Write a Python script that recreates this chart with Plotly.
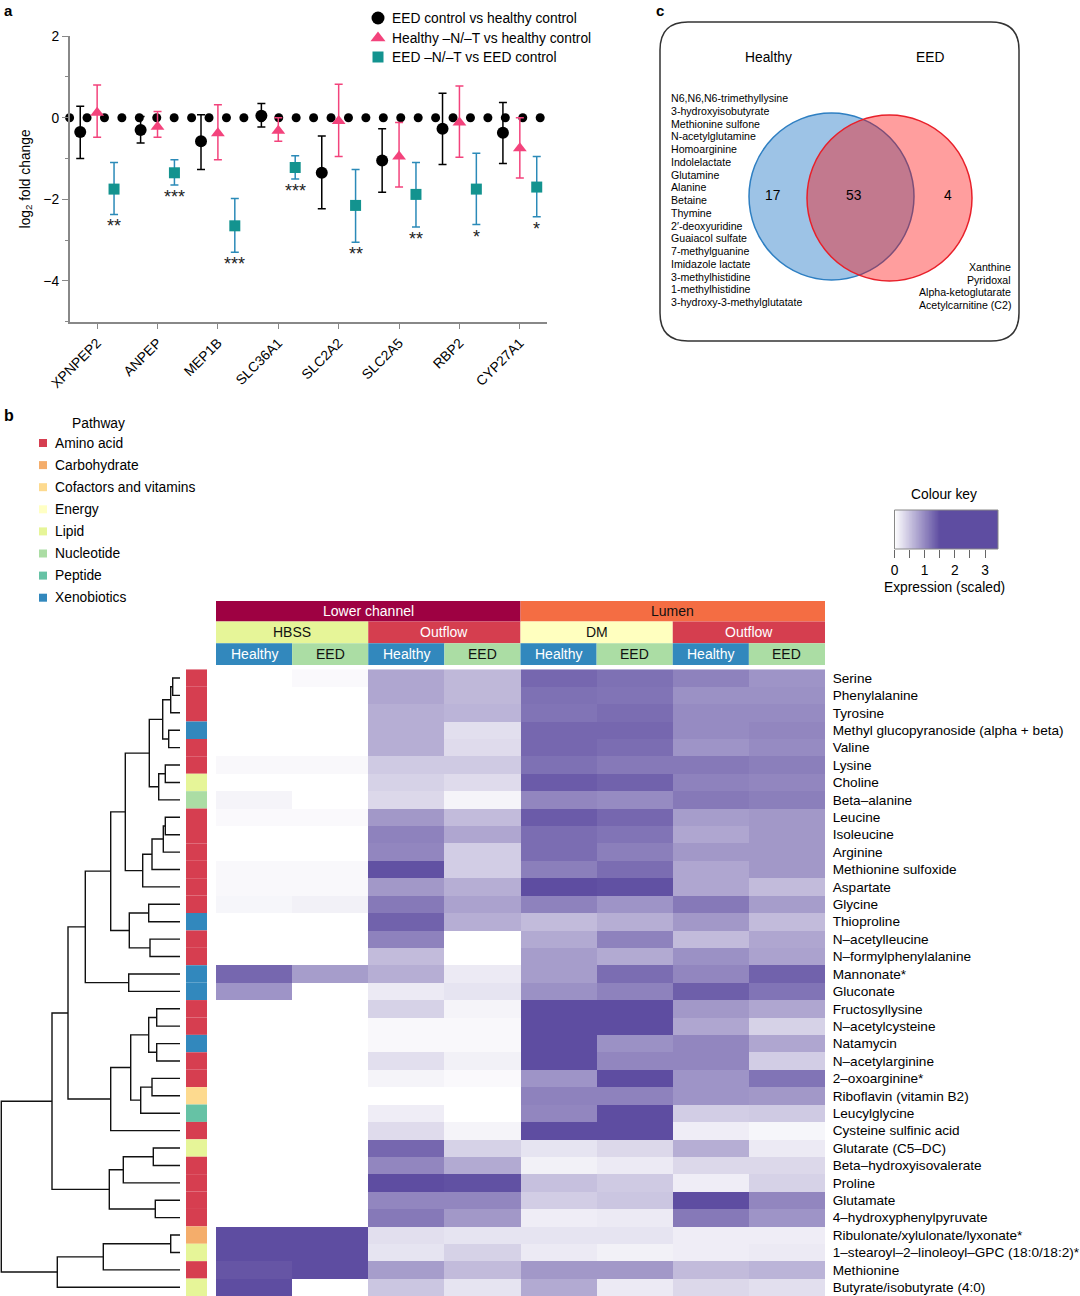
import numpy as np
import plotly.graph_objects as go

W, H = 1080, 1296
FONT = "Liberation Sans, Arial, sans-serif"

def px(x):
    return x / W

def py(y):
    return 1 - y / H

# ---------------- Panel a data ----------------
genes = ["XPNPEP2", "ANPEP", "MEP1B", "SLC36A1", "SLC2A2", "SLC2A5", "RBP2", "CYP27A1"]
series_names = ["EED control vs healthy control",
                "Healthy \u2013N/\u2013T vs healthy control",
                "EED \u2013N/\u2013T vs EED control"]
eed_vs_healthy = [-0.35, -0.30, -0.58, 0.05, -1.35, -1.05, -0.27, -0.37]
eed_vs_healthy_hi = [0.28, 0.03, 0.07, 0.35, -0.45, -0.27, 0.60, 0.37]
eed_vs_healthy_lo = [-1.00, -0.62, -1.27, -0.23, -2.23, -1.83, -1.15, -1.12]
healthy_nt = [0.12, -0.22, -0.38, -0.32, -0.08, -0.95, -0.12, -0.75]
healthy_nt_hi = [0.80, 0.15, 0.32, 0.00, 0.82, -0.12, 0.78, 0.00]
healthy_nt_lo = [-0.48, -0.48, -1.03, -0.58, -0.95, -1.70, -0.97, -1.48]
eed_nt = [-1.75, -1.35, -2.65, -1.22, -2.15, -1.88, -1.75, -1.70]
eed_nt_hi = [-1.10, -1.03, -1.98, -0.93, -1.27, -1.10, -0.87, -0.95]
eed_nt_lo = [-2.37, -1.65, -3.30, -1.50, -3.05, -2.68, -2.62, -2.43]
eed_nt_sig = ["**", "***", "***", "***", "**", "**", "*", "*"]

# ---------------- Panel c data ----------------
venn_sets = ["Healthy", "EED"]
venn_counts = [17, 53, 4]  # healthy only, shared, EED only
healthy_only = ["N6,N6,N6-trimethyllysine", "3-hydroxyisobutyrate", "Methionine sulfone",
                "N-acetylglutamine", "Homoarginine", "Indolelactate", "Glutamine", "Alanine",
                "Betaine", "Thymine", "2\u2032-deoxyuridine", "Guaiacol sulfate", "7-methylguanine",
                "Imidazole lactate", "3-methylhistidine", "1-methylhistidine",
                "3-hydroxy-3-methylglutatate"]
eed_only = ["Xanthine", "Pyridoxal", "Alpha-ketoglutarate", "Acetylcarnitine (C2)"]

# ---------------- Panel b data ----------------
site = ["Lower channel"] * 4 + ["Lumen"] * 4
medium = ["HBSS", "HBSS", "Outflow", "Outflow", "DM", "DM", "Outflow", "Outflow"]
group = ["Healthy", "EED"] * 4

metabolites = ["Serine", "Phenylalanine", "Tyrosine", "Methyl glucopyranoside (alpha + beta)",
               "Valine", "Lysine", "Choline", "Beta\u2013alanine", "Leucine", "Isoleucine",
               "Arginine", "Methionine sulfoxide", "Aspartate", "Glycine", "Thioproline",
               "N\u2013acetylleucine", "N\u2013formylphenylalanine", "Mannonate*", "Gluconate",
               "Fructosyllysine", "N\u2013acetylcysteine", "Natamycin", "N\u2013acetylarginine",
               "2\u2013oxoarginine*", "Riboflavin (vitamin B2)", "Leucylglycine",
               "Cysteine sulfinic acid", "Glutarate (C5\u2013DC)", "Beta\u2013hydroxyisovalerate",
               "Proline", "Glutamate", "4\u2013hydroxyphenylpyruvate",
               "Ribulonate/xylulonate/lyxonate*",
               "1\u2013stearoyl\u20132\u2013linoleoyl\u2013GPC (18:0/18:2)*", "Methionine",
               "Butyrate/isobutyrate (4:0)"]

pathway = ["Amino acid", "Amino acid", "Amino acid", "Xenobiotics", "Amino acid", "Amino acid",
           "Lipid", "Nucleotide", "Amino acid", "Amino acid", "Amino acid", "Amino acid",
           "Amino acid", "Amino acid", "Xenobiotics", "Amino acid", "Amino acid", "Xenobiotics",
           "Xenobiotics", "Amino acid", "Amino acid", "Xenobiotics", "Amino acid", "Amino acid",
           "Cofactors and vitamins", "Peptide", "Amino acid", "Lipid", "Amino acid", "Amino acid",
           "Amino acid", "Amino acid", "Carbohydrate", "Lipid", "Amino acid", "Lipid"]

pathway_names = ["Amino acid", "Carbohydrate", "Cofactors and vitamins", "Energy", "Lipid",
                 "Nucleotide", "Peptide", "Xenobiotics"]
pathway_colors = ["#D63E50", "#F4AD6B", "#FDDA8F", "#FFFFC4", "#E6F598", "#ABDDA4", "#66C2A5",
                  "#3288BD"]

expression = [
    [0.00, 0.05, 0.75, 0.60, 1.28, 1.20, 1.05, 0.90],
    [0.00, 0.00, 0.75, 0.60, 1.20, 1.17, 0.93, 0.93],
    [0.00, 0.00, 0.68, 0.63, 1.17, 1.23, 0.98, 0.98],
    [0.00, 0.00, 0.68, 0.27, 1.28, 1.28, 0.98, 1.02],
    [0.00, 0.00, 0.68, 0.30, 1.28, 1.23, 0.90, 0.98],
    [0.06, 0.06, 0.45, 0.45, 1.20, 1.13, 1.13, 1.08],
    [0.00, 0.00, 0.38, 0.30, 1.38, 1.32, 1.05, 1.02],
    [0.09, 0.00, 0.33, 0.09, 1.02, 0.98, 1.13, 1.08],
    [0.05, 0.05, 0.87, 0.57, 1.38, 1.28, 0.83, 0.87],
    [0.00, 0.00, 1.05, 0.75, 1.23, 1.17, 0.75, 0.87],
    [0.00, 0.00, 1.02, 0.42, 1.23, 1.08, 0.87, 0.87],
    [0.06, 0.06, 1.47, 0.42, 1.08, 1.23, 0.75, 0.87],
    [0.06, 0.06, 0.87, 0.68, 1.65, 1.47, 0.75, 0.57],
    [0.08, 0.12, 1.13, 0.78, 1.05, 0.90, 1.13, 0.83],
    [0.00, 0.00, 1.32, 0.68, 0.57, 0.68, 0.87, 0.57],
    [0.00, 0.00, 1.05, 0.00, 0.72, 1.05, 0.57, 0.75],
    [0.00, 0.00, 0.57, 0.00, 0.83, 0.72, 0.93, 0.78],
    [1.28, 0.83, 0.68, 0.18, 0.83, 1.23, 1.02, 1.32],
    [0.90, 0.00, 0.18, 0.23, 0.93, 1.05, 1.35, 1.17],
    [0.00, 0.00, 0.38, 0.09, 1.60, 1.60, 0.87, 0.75],
    [0.00, 0.00, 0.06, 0.06, 2.00, 1.50, 0.75, 0.38],
    [0.00, 0.00, 0.06, 0.06, 2.00, 0.93, 1.02, 0.75],
    [0.00, 0.00, 0.27, 0.12, 1.80, 1.02, 1.02, 0.42],
    [0.00, 0.00, 0.09, 0.05, 0.90, 1.80, 0.90, 1.17],
    [0.00, 0.00, 0.00, 0.00, 1.05, 1.05, 0.90, 0.87],
    [0.00, 0.00, 0.15, 0.00, 1.02, 1.60, 0.42, 0.45],
    [0.00, 0.00, 0.30, 0.09, 2.00, 2.00, 0.15, 0.08],
    [0.00, 0.00, 1.28, 0.38, 0.23, 0.33, 0.68, 0.18],
    [0.00, 0.00, 1.02, 0.72, 0.12, 0.18, 0.33, 0.33],
    [0.00, 0.00, 1.70, 1.47, 0.53, 0.45, 0.15, 0.38],
    [0.00, 0.00, 1.02, 1.02, 0.42, 0.48, 1.60, 1.02],
    [0.00, 0.00, 1.13, 0.87, 0.15, 0.18, 1.13, 0.90],
    [2.50, 2.50, 0.27, 0.23, 0.23, 0.23, 0.15, 0.15],
    [2.50, 2.50, 0.23, 0.38, 0.18, 0.12, 0.15, 0.18],
    [1.43, 2.20, 0.83, 0.57, 0.87, 0.87, 0.57, 0.63],
    [2.20, 0.00, 0.48, 0.23, 0.72, 0.18, 0.33, 0.27],
]

# dendrogram merges: (child a, child b, height); ids >= 36 refer to earlier merges
merges = [
    (0, 1, 7.3), (36, 2, 9.3), (3, 4, 11.3), (37, 38, 17.3), (5, 6, 14.7), (40, 7, 21.3),
    (39, 41, 30.7), (8, 9, 14.7), (43, 10, 16.7), (44, 11, 28.0), (45, 12, 37.3),
    (42, 46, 54.7), (13, 14, 31.3), (15, 16, 30.0), (48, 49, 50.7), (47, 50, 69.3),
    (17, 18, 51.3), (51, 52, 94.7), (19, 20, 23.3), (21, 22, 23.3), (54, 55, 31.3),
    (23, 24, 28.0), (57, 25, 39.3), (56, 58, 49.3), (59, 26, 69.3), (53, 60, 112.0),
    (27, 28, 26.7), (62, 29, 56.7), (30, 31, 24.7), (63, 64, 70.7), (61, 65, 128.0),
    (32, 33, 9.3), (67, 34, 76.7), (68, 35, 122.7), (66, 69, 178.7),
]

header_colors = {"Lower channel": "#9E0142", "Lumen": "#F46D43", "HBSS": "#E6F598",
                 "Outflow": "#D53E4F", "DM": "#FFFFBF", "Healthy": "#3288BD", "EED": "#ABDDA4"}
header_text = {"Lower channel": "white", "Lumen": "#111", "HBSS": "#111", "Outflow": "white",
               "DM": "#111", "Healthy": "white", "EED": "#111"}

PURPLE = "#5E4DA1"
ZMAX = 3.43
colorscale = [[0, "#FFFFFF"], [1.5 / ZMAX, PURPLE], [1, PURPLE]]

fig = go.Figure()
shapes = []
ann = []

def txt(x, y, text, size=13.5, xanchor="center", color="black", bold=False, ref=("x5", "y5"),
        yanchor="middle"):
    if bold:
        text = "<b>" + text + "</b>"
    ann.append(dict(x=x, y=y, xref=ref[0], yref=ref[1], text=text, showarrow=False,
                    xanchor=xanchor, yanchor=yanchor,
                    font=dict(family=FONT, size=size, color=color)))

# ---------------- Panel a ----------------
n_genes = len(genes)
cat_pos = np.arange(1, n_genes + 1)
zero_x = np.linspace(0.544, 8.337, 28)
fig.add_trace(go.Scatter(x=zero_x, y=np.zeros_like(zero_x), mode="markers",
                         marker=dict(color="black", size=9), cliponaxis=False,
                         showlegend=False, hoverinfo="skip", xaxis="x", yaxis="y"))

series = [
    (eed_vs_healthy, eed_vs_healthy_hi, eed_vs_healthy_lo, -0.28, "circle", "black", "black", 12),
    (healthy_nt, healthy_nt_hi, healthy_nt_lo, 0.0, "triangle-up", "#F3437C", "#F3437C", 12),
    (eed_nt, eed_nt_hi, eed_nt_lo, 0.28, "square", "#13938F", "#2B8AB8", 11),
]
for (val, hi, lo, off, sym, col, ecol, size), name in zip(series, series_names):
    val = np.array(val); hi = np.array(hi); lo = np.array(lo)
    fig.add_trace(go.Scatter(
        x=cat_pos + off, y=val, mode="markers", name=name,
        marker=dict(symbol=sym, color=col, size=size),
        error_y=dict(type="data", symmetric=False, array=hi - val, arrayminus=val - lo,
                     color=ecol, thickness=1.5, width=4),
        cliponaxis=False, showlegend=False, xaxis="x", yaxis="y"))

for i, s in enumerate(eed_nt_sig):
    ann.append(dict(x=cat_pos[i] + 0.28, y=eed_nt_lo[i], xref="x", yref="y", text=s,
                    showarrow=False, yanchor="middle", yshift=-12,
                    font=dict(family=FONT, size=18, color="#222")))

# legend of panel a
leg_syms = [("circle", "black", 13), ("triangle-up", "#F3437C", 13), ("square", "#13938F", 11)]
leg_y = [18, 38, 57]
for (sym, col, sz), yy, name in zip(leg_syms, leg_y, series_names):
    fig.add_trace(go.Scatter(x=[378], y=[yy], mode="markers",
                             marker=dict(symbol=sym, color=col, size=sz),
                             showlegend=False, hoverinfo="skip", cliponaxis=False,
                             xaxis="x5", yaxis="y5"))
    txt(390, yy, name, size=13.8, xanchor="left")

# ---------------- Panel c ----------------
shapes.append(dict(type="path", xref="x5", yref="y5",
                   path="M 688 22 L 991 22 Q 1019 22 1019 50 L 1019 313 Q 1019 341 991 341 "
                        "L 688 341 Q 660 341 660 313 L 660 50 Q 660 22 688 22 Z",
                   line=dict(color="#333", width=1.5), fillcolor="rgba(0,0,0,0)"))
shapes.append(dict(type="circle", xref="x5", yref="y5", x0=749, x1=914, y0=113, y1=280,
                   fillcolor="#9DC3E6", line=dict(color="#2E7FC2", width=1.5)))
shapes.append(dict(type="circle", xref="x5", yref="y5", x0=807, x1=972, y0=115, y1=281,
                   fillcolor="rgba(255,0,0,0.38)", line=dict(color="#E8202A", width=1.5)))
txt(768, 57, venn_sets[0], size=13.8)
txt(930, 57, venn_sets[1], size=13.8)
for xx, c in zip([772, 854, 948], venn_counts):
    txt(xx, 195, str(c), size=13.8)
for i, m in enumerate(healthy_only):
    txt(669, 98 + i * 12.75, m, size=10.6, xanchor="left")
for i, m in enumerate(eed_only):
    txt(1013, 267 + i * 12.6, m, size=10.6, xanchor="right")

# panel labels
txt(2, 0, "a", size=15, xanchor="left", bold=True, yanchor="top")
txt(2, 415, "b", size=16, xanchor="left", bold=True)
txt(654, 0, "c", size=15, xanchor="left", bold=True, yanchor="top")

# ---------------- Panel b: pathway legend ----------------
txt(98, 423, "Pathway", size=13.8)
for i, (pn, pc) in enumerate(zip(pathway_names, pathway_colors)):
    yc = 443 + i * 22.1
    shapes.append(dict(type="rect", xref="x5", yref="y5", x0=39, x1=47, y0=yc - 4, y1=yc + 4,
                       fillcolor=pc, line=dict(width=0)))
    txt(53, yc, pn, size=13.8, xanchor="left")

# ---------------- Colour key ----------------
key_x = np.linspace(0, ZMAX, 240)
fig.add_trace(go.Heatmap(x=key_x, y=[0], z=[key_x], colorscale=colorscale, zmin=0, zmax=ZMAX,
                         showscale=False, hoverinfo="skip", xaxis="x4", yaxis="y4"))
shapes.append(dict(type="rect", xref="x4 domain", yref="y4 domain", x0=0, x1=1, y0=0, y1=1,
                   line=dict(color="#888", width=1), fillcolor="rgba(0,0,0,0)"))
txt(944, 494, "Colour key", size=13.8)
txt(944, 587, "Expression (scaled)", size=13.8)

# ---------------- Heatmap ----------------
n_rows = len(metabolites)
fig.add_trace(go.Heatmap(z=expression, x=list(range(8)), y=list(range(n_rows)),
                         colorscale=colorscale, zmin=0, zmax=ZMAX, showscale=False,
                         xaxis="x3", yaxis="y3"))

# pathway colour bar
pcol = dict(zip(pathway_names, pathway_colors))
for i, p in enumerate(pathway):
    shapes.append(dict(type="rect", xref="paper", yref="y3", x0=px(186), x1=px(207),
                       y0=i - 0.5, y1=i + 0.5, fillcolor=pcol[p], line=dict(width=0)))

# header bands
def spans(labels):
    out = []
    start = 0
    for i in range(1, len(labels) + 1):
        if i == len(labels) or labels[i] != labels[start]:
            out.append((labels[start], start, i - 1))
            start = i
    return out

bands = [(site, 601, 621.5), (medium, 621.5, 643.3), (group, 643.3, 665)]
for labels, y_top, y_bot in bands:
    for lab, a, b in spans(labels):
        shapes.append(dict(type="rect", xref="x3", yref="paper", x0=a - 0.5, x1=b + 0.5,
                           y0=py(y_bot), y1=py(y_top), fillcolor=header_colors[lab],
                           line=dict(width=0)))
        ann.append(dict(x=(a + b) / 2, y=py((y_top + y_bot) / 2), xref="x3", yref="paper",
                        text=lab, showarrow=False, yanchor="middle",
                        font=dict(family=FONT, size=14, color=header_text[lab])))

# dendrogram
pos = {i: (float(i), 0.0) for i in range(n_rows)}
dx, dy = [], []
for k, (a, b, h) in enumerate(merges):
    ya, ha = pos[a]
    yb, hb = pos[b]
    dx += [ha, h, h, hb, None]
    dy += [ya, ya, yb, yb, None]
    pos[n_rows + k] = ((ya + yb) / 2, h)
fig.add_trace(go.Scatter(x=dx, y=dy, mode="lines", line=dict(color="#111", width=1.4),
                         showlegend=False, hoverinfo="skip", xaxis="x2", yaxis="y2",
                         cliponaxis=False))

hm_dom = [py(1296), py(669.3)]
axis_font = dict(family=FONT, size=13.8, color="black")
fig.update_layout(
    width=W, height=H, margin=dict(l=0, r=0, t=0, b=0),
    paper_bgcolor="white", plot_bgcolor="rgba(0,0,0,0)",
    font=dict(family=FONT, size=13.5, color="black"),
    showlegend=False,
    xaxis=dict(domain=[px(69.6), px(547)], range=[0.544, 8.45], tickvals=list(cat_pos),
               ticktext=genes, tickangle=-45, ticks="outside", ticklen=6, tickcolor="#888",
               showline=True, linecolor="#888", linewidth=1.5, showgrid=False, zeroline=False,
               tickfont=axis_font, anchor="y", automargin=False),
    yaxis=dict(domain=[py(321.7), py(36.1)], range=[-5, 2], tickvals=[2, 0, -2, -4],
               ticktext=["2", "0", "\u22122", "\u22124"], ticks="outside", ticklen=6,
               tickcolor="#888", showline=True, linecolor="#888", linewidth=1.5,
               showgrid=False, zeroline=False, tickfont=axis_font, anchor="x",
               minor=dict(dtick=1, ticks="outside", ticklen=3, tickcolor="#888"),
               title=dict(text="log<sub>2</sub> fold change", font=axis_font, standoff=10),
               automargin=False),
    xaxis2=dict(domain=[0, px(180)], range=[180, 0], visible=False, anchor="y2"),
    yaxis2=dict(domain=hm_dom, range=[n_rows - 0.5, -0.5], visible=False, anchor="x2"),
    xaxis3=dict(domain=[px(216), px(825)], range=[-0.5, 7.5], visible=False, anchor="y3"),
    yaxis3=dict(domain=hm_dom, range=[n_rows - 0.5, -0.5], tickvals=list(range(n_rows)),
                ticktext=metabolites, side="right", ticks="outside", ticklen=4,
                tickcolor="rgba(0,0,0,0)", showline=False, showgrid=False, zeroline=False,
                tickfont=dict(family=FONT, size=13.6, color="black"), anchor="x3",
                automargin=False),
    xaxis4=dict(domain=[px(894.5), px(998)], range=[0, ZMAX],
                tickvals=[0, 1, 2, 3], ticks="outside", ticklen=8, tickcolor="#666",
                minor=dict(dtick=0.5, tick0=0, ticks="outside", ticklen=8, tickcolor="#666"),
                showgrid=False, zeroline=False,
                showline=False, tickfont=axis_font, anchor="y4", automargin=False),
    yaxis4=dict(domain=[py(549), py(510)], range=[-0.5, 0.5], visible=False, anchor="x4"),
    xaxis5=dict(domain=[0, 1], range=[0, W], visible=False, anchor="y5"),
    yaxis5=dict(domain=[0, 1], range=[H, 0], visible=False, anchor="x5"),
    shapes=shapes, annotations=ann,
)

fig.write_html("out.html", config={"displayModeBar": False},
               post_script="document.body.style.margin='0';document.body.style.overflow='hidden';")
